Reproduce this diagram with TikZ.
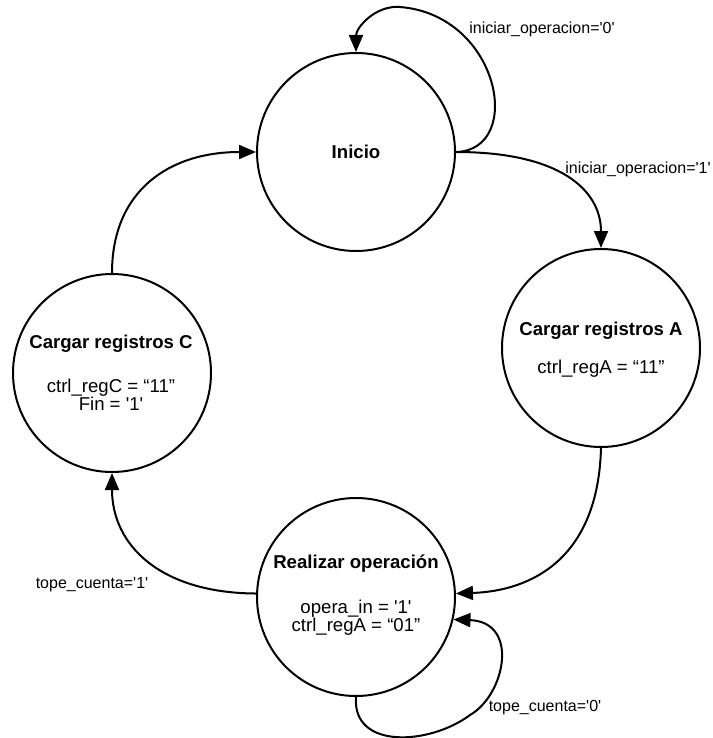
\documentclass[tikz,border=0pt]{standalone}
\usepackage{fontspec}
\setmainfont{Liberation Sans}
\usetikzlibrary{arrows.meta}
% straight apostrophe for bit values
\newcommand{\sq}{\textquotesingle}
\begin{document}
\begin{tikzpicture}[x=1pt,y=-1pt,
  state/.style={draw, circle, line width=2pt, minimum size=198pt, inner sep=0pt},
  title/.style={font=\fontsize{18.6}{22}\selectfont\bfseries, anchor=base, inner sep=0pt},
  body/.style={font=\fontsize{18.6}{22}\selectfont, anchor=base, inner sep=0pt},
  lbl/.style={font=\fontsize{16}{19}\selectfont, anchor=base, inner sep=0pt},
  trans/.style={line width=2pt, -{Triangle[length=17pt,width=14pt]}}
]
\useasboundingbox (0,0) rectangle (712,738);

% states
\node[state] (ini) at (356,152) {};
\node[state] (ca)  at (601,348) {};
\node[state] (re)  at (356,597) {};
\node[state] (cc)  at (112,373) {};

% state texts
\node[title] (tIni) at (356,158.5) {Inicio};
\node[title] (tCa)  at (601,335.5) {Cargar registros A};
\node[body]  (bCa)  at (601,373.5) {ctrl\_regA = “11”};
\node[title] (tCc)  at (111,348.5) {Cargar registros C};
\node[body]  (bCc1) at (111,392.5) {ctrl\_regC = “11”};
\node[body]  (bCc2) at (111,410.5) {Fin = \sq1\sq};
\node[title] (tRe)  at (356,568.5) {Realizar operación};
\node[body]  (bRe1) at (356,613.5) {opera\_in = \sq1\sq};
\node[body]  (bRe2) at (356,631.5) {ctrl\_regA = “01”};

% transitions
\draw[trans] (ini.east) .. controls (525,150) and (500,15) .. (400,7)
             .. controls (375,5) and (356,28) .. (ini.north);
\draw[trans] (ini.east) .. controls (560,152) and (601,190) .. (ca.north);
\draw[trans] (ca.south) .. controls (598,560) and (530,591) .. (re.2);
\draw[trans] (re.south) .. controls (352,750) and (430,745) .. (470,715)
             .. controls (505,695) and (520,622) .. (re.-13);
\draw[trans] (re.178) .. controls (160,593) and (112,545) .. (cc.south);
\draw[trans] (cc.north) .. controls (112,190) and (170,152) .. (ini.west);

% transition labels
\node[lbl] (l0) at (542,33.7)  {iniciar\_operacion=\sq0\sq};
\node[lbl] (l1) at (638,173.7) {iniciar\_operacion=\sq1\sq};
\node[lbl] (l2) at (92,588.7)  {tope\_cuenta=\sq1\sq};
\node[lbl] (l3) at (545,711.7) {tope\_cuenta=\sq0\sq};
\end{tikzpicture}
\end{document}
